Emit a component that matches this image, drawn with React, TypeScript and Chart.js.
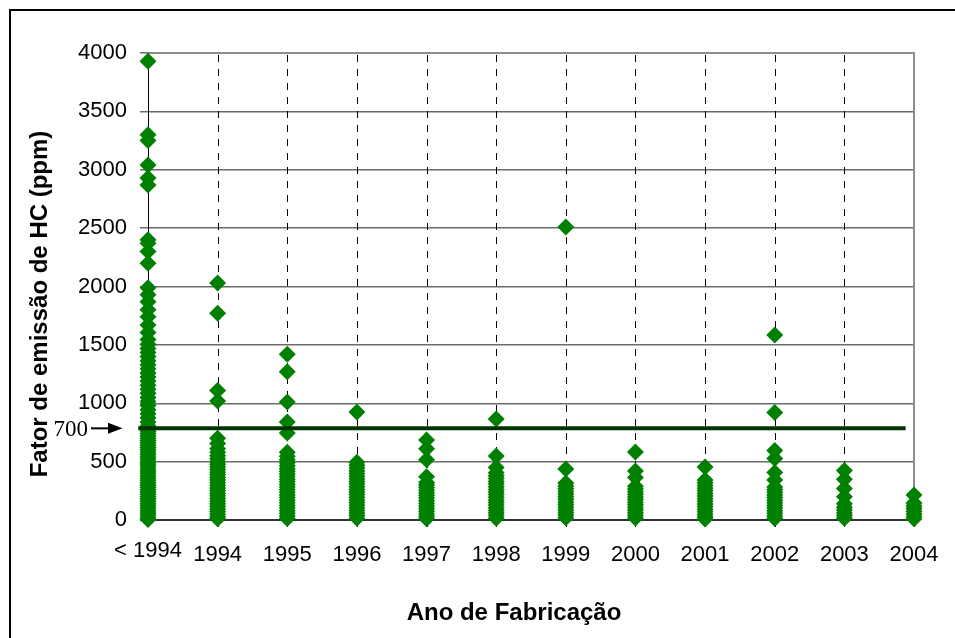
import React, { useEffect, useRef } from 'react';
import { Chart, registerables } from 'chart.js';

Chart.register(...registerables);

// Categories (x axis)
const categories = ['< 1994', '1994', '1995', '1996', '1997', '1998', '1999', '2000', '2001', '2002', '2003', '2004'];

// HC emission factor (ppm) per manufacturing year
const hcPre1994 = [3930, 3300, 3250, 3040, 2930, 2870, 2400, 2370, 2300, 2200, 1990, 1930, 1870, 1800, 1740, 1670, 1605, 1545, 1505, 1470, 1435, 1400, 1365, 1330, 1295, 1260, 1225, 1190, 1155, 1120, 1085, 1050, 1015, 980, 945, 910, 875, 840, 805, 780, 760, 740, 720, 700, 680, 660, 640, 620, 600, 580, 560, 540, 520, 500, 480, 460, 440, 420, 400, 380, 360, 340, 320, 300, 280, 260, 240, 220, 200, 180, 160, 140, 120, 100, 80, 60, 40, 20, 5];
const hc1994 = [2030, 1770, 1110, 1020, 700, 655, 610, 580, 550, 525, 500, 478, 455, 432, 410, 388, 365, 342, 320, 298, 275, 252, 230, 208, 185, 162, 140, 118, 95, 72, 50, 28, 10];
const hc1995 = [1420, 1270, 1010, 840, 745, 580, 545, 515, 490, 465, 440, 418, 395, 372, 350, 328, 305, 282, 260, 238, 215, 192, 170, 148, 125, 102, 80, 58, 35, 12];
const hc1996 = [925, 495, 470, 445, 420, 398, 375, 352, 330, 308, 285, 262, 240, 218, 195, 172, 150, 128, 105, 82, 60, 38, 15];
const hc1997 = [685, 610, 515, 370, 322, 300, 278, 255, 232, 210, 188, 165, 142, 120, 98, 75, 52, 30, 10];
const hc1998 = [865, 548, 450, 405, 380, 355, 330, 308, 285, 262, 240, 218, 195, 172, 150, 128, 105, 82, 60, 38, 15];
const hc1999 = [2510, 437, 317, 292, 268, 245, 222, 200, 178, 155, 132, 110, 88, 65, 42, 20];
const hc2000 = [583, 420, 365, 290, 265, 242, 220, 198, 175, 152, 130, 108, 85, 62, 40, 18];
const hc2001 = [454, 343, 318, 295, 272, 250, 228, 205, 182, 160, 138, 115, 92, 70, 48, 25, 8];
const hc2002 = [1585, 920, 595, 527, 407, 343, 283, 260, 238, 215, 192, 170, 148, 125, 102, 80, 58, 35, 12];
const hc2003 = [424, 350, 270, 200, 140, 110, 85, 60, 38, 15];
const hc2004 = [214, 146, 120, 98, 75, 52, 30, 10];

const seriesByYear = [hcPre1994, hc1994, hc1995, hc1996, hc1997, hc1998, hc1999, hc2000, hc2001, hc2002, hc2003, hc2004];

// y axis
const yMin = 0;
const yMax = 4000;
const yStep = 500;

// threshold line and its annotation
const thresholdValue = 785;
const thresholdLabel = '700';
const thresholdStart = -0.14;
const thresholdEnd = 10.88;

const yTitle = 'Fator de emissão de HC (ppm)';
const xTitle = 'Ano de Fabricação';

const SANS = "'Liberation Sans', Arial, sans-serif";
const SERIF = "'Liberation Serif', 'Times New Roman', serif";

const decor = {
  id: 'decor',
  beforeDatasetsDraw(chart: any) {
    const { ctx, chartArea: a, scales } = chart;
    const x = scales.x;
    ctx.save();
    // vertical dashed grid lines
    ctx.strokeStyle = '#000';
    ctx.lineWidth = 1;
    ctx.setLineDash([7, 7]);
    for (let i = 1; i < categories.length - 1; i++) {
      const px = Math.round(x.getPixelForValue(i)) + 0.5;
      ctx.beginPath();
      ctx.moveTo(px, a.top + 2);
      ctx.lineTo(px, a.bottom);
      ctx.stroke();
    }
    ctx.setLineDash([]);
    // top & right frame
    ctx.strokeStyle = '#8e8e8e';
    ctx.lineWidth = 2;
    ctx.beginPath();
    ctx.moveTo(a.left, a.top);
    ctx.lineTo(a.right, a.top);
    ctx.lineTo(a.right, a.bottom);
    ctx.stroke();
    // y axis line
    ctx.strokeStyle = '#000';
    ctx.lineWidth = 1;
    ctx.beginPath();
    ctx.moveTo(a.left + 0.5, a.top);
    ctx.lineTo(a.left + 0.5, a.bottom);
    ctx.stroke();
    // x tick marks
    for (let i = 0; i < categories.length; i++) {
      const px = Math.round(x.getPixelForValue(i)) + 0.5;
      ctx.beginPath();
      ctx.moveTo(px, a.bottom);
      ctx.lineTo(px, a.bottom + 7);
      ctx.stroke();
    }
    // x axis line
    ctx.strokeStyle = '#333';
    ctx.lineWidth = 2;
    ctx.beginPath();
    ctx.moveTo(a.left - 8, a.bottom);
    ctx.lineTo(a.right, a.bottom);
    ctx.stroke();
    ctx.restore();
  },
  afterDraw(chart: any) {
    const { ctx, chartArea: a, scales } = chart;
    const x = scales.x;
    const y = scales.y;
    ctx.save();
    ctx.fillStyle = '#000';
    // x tick labels
    ctx.font = `22px ${SANS}`;
    ctx.textAlign = 'center';
    ctx.textBaseline = 'alphabetic';
    categories.forEach((c, i) => {
      const px = x.getPixelForValue(i);
      ctx.fillText(c, px, a.bottom + (i === 0 ? 37 : 41));
    });
    // x title
    ctx.font = `bold 24px ${SANS}`;
    ctx.fillText(xTitle, 514, a.bottom + 100);
    // y title
    ctx.save();
    ctx.translate(47, 304);
    ctx.rotate(-Math.PI / 2);
    ctx.textAlign = 'center';
    ctx.fillText(yTitle, 0, 0);
    ctx.restore();
    // threshold annotation "700 ->"
    const py = y.getPixelForValue(thresholdValue);
    ctx.font = `23px ${SERIF}`;
    ctx.textAlign = 'right';
    ctx.textBaseline = 'alphabetic';
    ctx.fillText(thresholdLabel, 88, py + 8);
    ctx.strokeStyle = '#000';
    ctx.lineWidth = 2;
    ctx.beginPath();
    ctx.moveTo(91, py);
    ctx.lineTo(110, py);
    ctx.stroke();
    ctx.beginPath();
    ctx.moveTo(108, py - 5.5);
    ctx.lineTo(122.5, py);
    ctx.lineTo(108, py + 5.5);
    ctx.closePath();
    ctx.fill();
    ctx.restore();
  },
};

export default function App() {
  const ref = useRef<HTMLCanvasElement | null>(null);

  useEffect(() => {
    if (!ref.current) return;
    const points: { x: number; y: number }[] = [];
    seriesByYear.forEach((vals, i) => {
      vals.forEach((v) => points.push({ x: i, y: v }));
    });
    const chart = new Chart(ref.current, {
      type: 'scatter',
      data: {
        datasets: [
          {
            type: 'line',
            label: 'limite',
            data: [
              { x: thresholdStart, y: thresholdValue },
              { x: thresholdEnd, y: thresholdValue },
            ],
            borderColor: '#003300',
            borderWidth: 4,
            pointRadius: 0,
            clip: false,
            order: 0,
          } as any,
          {
            type: 'scatter',
            label: 'HC',
            data: points,
            pointStyle: 'rectRot',
            pointRadius: 8.5,
            pointHoverRadius: 8.5,
            backgroundColor: '#008000',
            borderColor: '#008000',
            borderWidth: 0,
            clip: false,
            order: 1,
          } as any,
        ],
      },
      options: {
        animation: false,
        responsive: false,
        devicePixelRatio: 1,
        events: [],
        layout: { padding: { left: 0, top: 53, right: 41, bottom: 0 } },
        plugins: { legend: { display: false }, tooltip: { enabled: false } },
        scales: {
          x: {
            type: 'linear',
            min: 0,
            max: categories.length - 1,
            ticks: { display: false, stepSize: 1 },
            grid: { display: false },
            border: { display: false },
            afterFit: (s: any) => {
              s.height = 118;
            },
          },
          y: {
            type: 'linear',
            min: yMin,
            max: yMax,
            ticks: {
              stepSize: yStep,
              color: '#000',
              font: { family: SANS, size: 22 },
              padding: 13,
              callback: (v: any) => String(v),
            },
            grid: { color: '#6a6a6a', lineWidth: 1.5, tickLength: 8, drawTicks: true },
            border: { display: false },
            afterFit: (s: any) => {
              s.width = 148;
            },
          },
        },
      },
      plugins: [decor],
    });
    return () => chart.destroy();
  }, []);

  return (
    <div style={{ position: 'absolute', left: 0, top: 0, width: 955, height: 638, overflow: 'hidden', background: '#fff' }}>
      <div
        style={{
          position: 'absolute',
          left: 9,
          top: 9,
          width: 1000,
          height: 1000,
          border: '2px solid #000',
          boxSizing: 'border-box',
        }}
      />
      <canvas ref={ref} width={955} height={638} style={{ position: 'absolute', left: 0, top: 0 }} />
    </div>
  );
}
